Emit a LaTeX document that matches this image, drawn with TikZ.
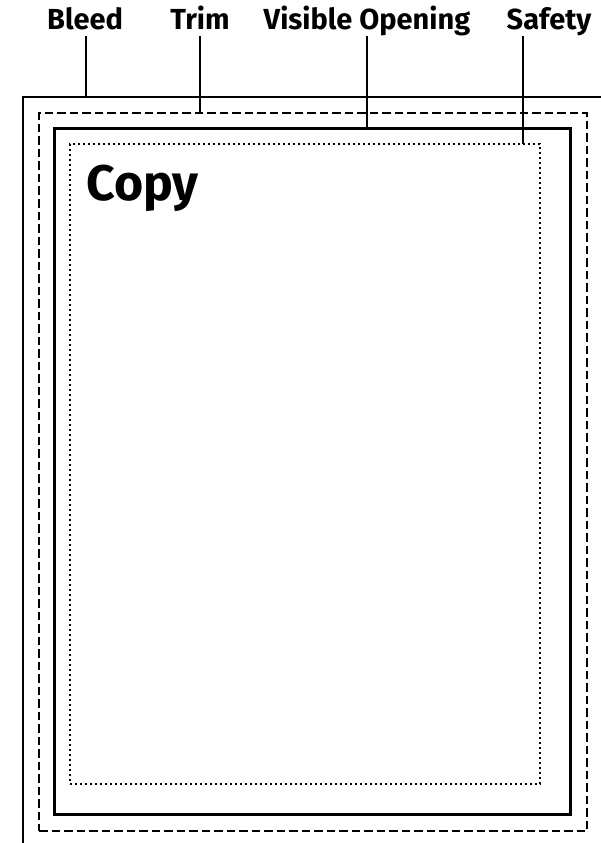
\documentclass[tikz,border=0pt]{standalone}
\usepackage{fontspec}
\setmainfont{Fira Sans}
\usepackage{tikz}
\usetikzlibrary{positioning}
\definecolor{preto}{RGB}{0,0,0}
\tikzset{
  caixa/.style={rectangle,draw=preto,inner sep=0pt,outer sep=0pt},
  sangria/.style={caixa,line width=1.8pt},
  corte/.style={caixa,line width=2.6pt,dash pattern=on 8.5pt off 4pt},
  abertura/.style={caixa,line width=3pt},
  seguranca/.style={caixa,line width=2pt,dash pattern=on 2pt off 3pt},
  rotulo/.style={anchor=base,inner sep=0pt,font=\bfseries\fontsize{29}{30}\selectfont},
  guia/.style={line width=1.8pt,preto}
}
\begin{document}
\begin{tikzpicture}[x=1pt,y=-1pt]
\useasboundingbox (0,0) rectangle (600,843);
% caixas
\node[sangria,minimum width=580pt,minimum height=750pt] (sangria) at (313,472) {};
\node[corte,minimum width=548pt,minimum height=718pt] (corte) at (313,472) {};
\node[abertura,minimum width=516pt,minimum height=686pt] (abertura) at (312,471) {};
\node[seguranca,minimum width=470pt,minimum height=640pt] (seguranca) at (305,464) {};
\node[anchor=base west,inner sep=0pt,font=\bfseries\fontsize{50}{52}\selectfont]
  (copia) at (86,200) {Copy};
% rotulos
\node[rotulo] (tBleed) at (85,30) {Bleed};
\node[rotulo] (tTrim) at (200,30) {Trim};
\node[rotulo] (tVisible) at (367,30) {Visible Opening};
\node[rotulo] (tSafety) at (549,30) {Safety};
\coordinate (aBleed) at (86,36);
\coordinate (aTrim) at (200,36);
\coordinate (aVisible) at (367,36);
\coordinate (aSafety) at (523,36);
\draw[guia] (aBleed) -- (aBleed |- sangria.north);
\draw[guia] (aTrim) -- (aTrim |- corte.north);
\draw[guia] (aVisible) -- (aVisible |- abertura.north);
\draw[guia] (aSafety) -- (aSafety |- seguranca.north);
\end{tikzpicture}
\end{document}
